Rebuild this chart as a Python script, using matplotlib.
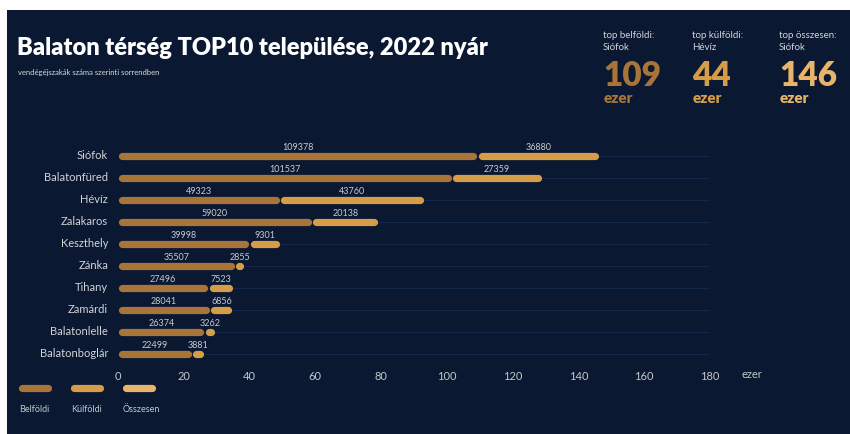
import matplotlib.pyplot as plt
from matplotlib.patches import Rectangle

plt.rcParams['font.family'] = ['Lato', 'DejaVu Sans']

towns = ["Siófok", "Balatonfüred", "Hévíz", "Zalakaros", "Keszthely",
         "Zánka", "Tihany", "Zamárdi", "Balatonlelle", "Balatonboglár"]
belfoldi = [109378, 101537, 49323, 59020, 39998, 35507, 27496, 28041, 26374, 22499]
kulfoldi = [36880, 27359, 43760, 20138, 9301, 2855, 7523, 6856, 3262, 3881]
xticks = [0, 20, 40, 60, 80, 100, 120, 140, 160, 180]
legend_labels = ["Belföldi", "Külföldi", "Összesen"]

W, H = 850, 434
bg = "#0a1831"
c_bel = "#a8743a"
c_kul = "#d69d48"
c_ossz = "#e8b36b"
txt = "#d2d4d8"

fig = plt.figure(figsize=(W / 100, H / 100), dpi=100, facecolor="white")

def fx(x):
    return x / W

def fy(y):
    return 1 - y / H

# dark panel with white strip left/top
fig.patches.append(Rectangle((fx(7), 0), 1 - fx(7), fy(10), transform=fig.transFigure,
                             facecolor=bg, edgecolor="none", zorder=-10))

# axes: 0 at px 118, 180 at px 710; rows 22px apart, first at y=155
ax = fig.add_axes([fx(118), fy(365), fx(710) - fx(118), (365 - 145) / H])
ax.set_zorder(2)
ax.set_facecolor("none")
ax.set_xlim(0, 180)
ax.set_ylim(len(towns) - 0.5, -0.5)
for s in ax.spines.values():
    s.set_visible(False)
ax.set_yticks([])
ax.set_xticks(xticks)
ax.tick_params(axis="x", length=0, colors="#c4c7cc", labelsize=8, pad=4)

gap = 1.3
lw = 5.2
for i, t in enumerate(towns):
    b = belfoldi[i] / 1000
    k = kulfoldi[i] / 1000
    ax.plot([0, 180], [i, i], color="#12284a", lw=0.8, zorder=1)
    ax.plot([gap, b - gap], [i, i], color=c_bel, lw=lw, solid_capstyle="round", zorder=3)
    ax.plot([b + gap, b + k - gap], [i, i], color=c_kul, lw=lw, solid_capstyle="round", zorder=3)
    ax.text(b / 2, i - 0.17, str(belfoldi[i]), ha="center", va="bottom",
            fontsize=6.5, color="#c8cacf", zorder=4)
    ax.text(b + k / 2, i - 0.17, str(kulfoldi[i]), ha="center", va="bottom",
            fontsize=6.5, color="#c8cacf", zorder=4)
    ax.text(-3, i, t, ha="right", va="center", fontsize=8, color=txt)

fig.text(fx(742), fy(375), "ezer", ha="left", va="center", fontsize=8, color="#c4c7cc")

# title
fig.text(fx(17), fy(48), "Balaton térség TOP10 települése, 2022 nyár", ha="left", va="center",
         fontsize=17, fontweight="heavy", color="white")
fig.text(fx(18), fy(73), "vendégéjszakák száma szerinti sorrendben", ha="left", va="center",
         fontsize=5.5, color="#d8d8d8")

# top boxes
tops = [("top belföldi:", "Siófok", "109", c_bel, 603),
        ("top külföldi:", "Hévíz", "44", c_kul, 692),
        ("top összesen:", "Siófok", "146", c_ossz, 779)]
for head, town, num, col, x in tops:
    fig.text(fx(x), fy(35), head, ha="left", va="center", fontsize=7, color=txt)
    fig.text(fx(x), fy(47), town, ha="left", va="center", fontsize=7, color=txt)
    fig.text(fx(x), fy(86), num, ha="left", va="baseline", fontsize=24,
             fontweight="heavy", color=col)
    fig.text(fx(x + 1), fy(103), "ezer", ha="left", va="baseline", fontsize=11,
             fontweight="heavy", color=col)

# legend
leg_cols = [c_bel, c_kul, c_ossz]
leg_x = [20, 72, 124]
for lab, col, x in zip(legend_labels, leg_cols, leg_x):
    fig.add_artist(plt.Line2D([fx(x + 2), fx(x + 28)], [fy(388), fy(388)], color=col, lw=lw,
                              solid_capstyle="round", transform=fig.transFigure))
    fig.text(fx(x - 1), fy(410), lab, ha="left", va="center", fontsize=6.5, color="#c4c7cc")

fig.savefig("out.png", dpi=100, facecolor=fig.get_facecolor())
